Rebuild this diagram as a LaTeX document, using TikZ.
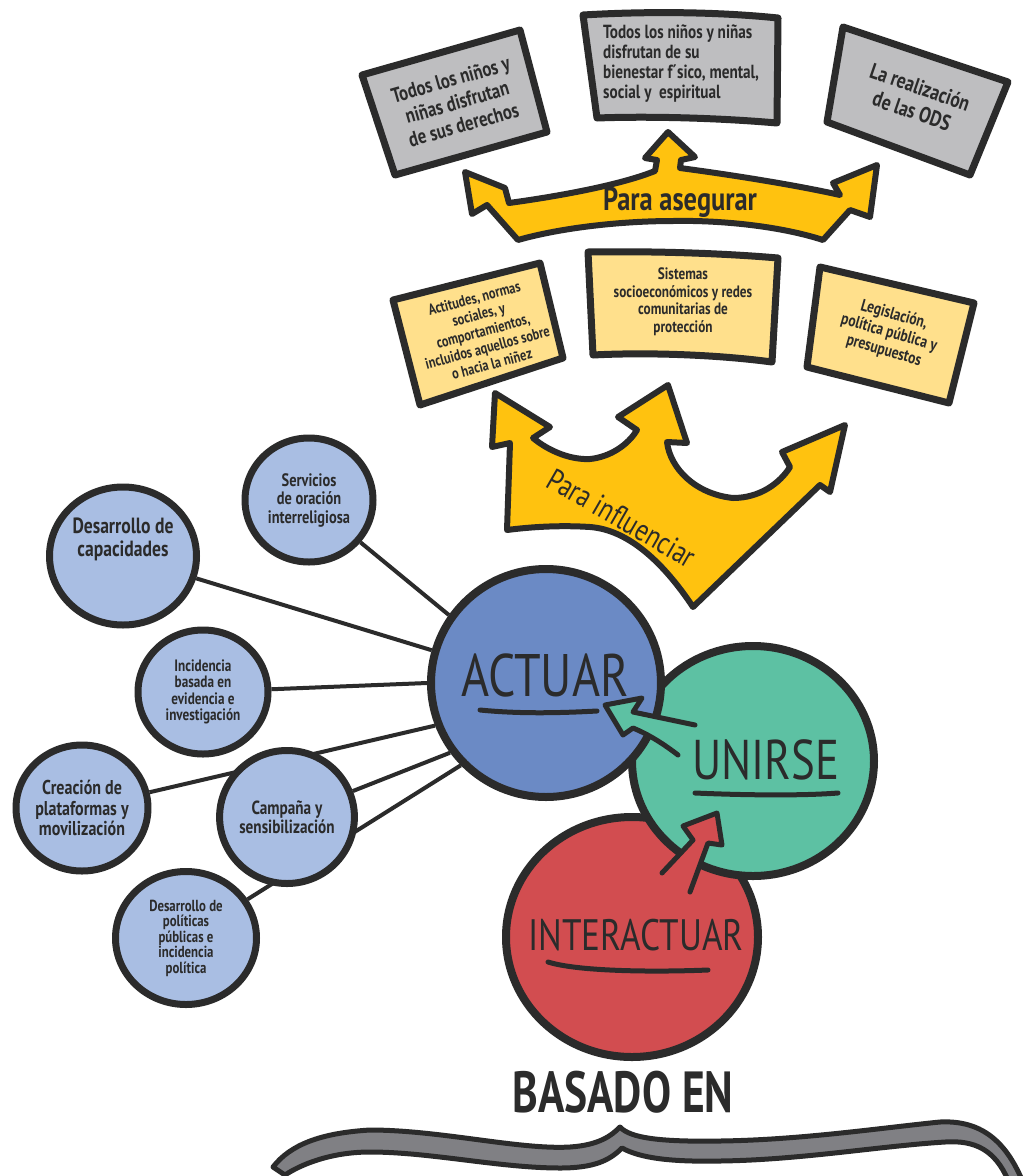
\documentclass[tikz,border=0pt]{standalone}
\usepackage{fontspec}
\setmainfont{PT Sans}
\newfontfamily\hand[FakeStretch=0.8]{PT Sans}
\newfontfamily\handc[FakeStretch=0.8]{PT Sans}
\newfontfamily\handbig[FakeStretch=0.75]{PT Sans}
\usetikzlibrary{shapes.geometric}
\pgfdeclarelayer{bg}
\pgfsetlayers{bg,main}
\definecolor{ink}{HTML}{2B2B2B}
\definecolor{greybox}{HTML}{BEBEC0}
\definecolor{paleyel}{HTML}{FFE08C}
\definecolor{gold}{HTML}{FFC20F}
\definecolor{actblue}{HTML}{6B8AC5}
\definecolor{lightblue}{HTML}{A9BEE3}
\definecolor{unigreen}{HTML}{5DC1A3}
\definecolor{intred}{HTML}{D24D50}
\definecolor{bracegrey}{HTML}{808084}
\begin{document}
\begin{tikzpicture}[x=1pt,y=-1pt,line join=round,line cap=round,
  boxline/.style={draw=ink,line width=7pt,line join=round},
  banner/.style={draw=ink,line width=6pt,fill=gold,line join=round},
  small/.style={ellipse,draw=ink,line width=7pt,fill=lightblue,inner sep=0pt,align=center,text=ink},
  big/.style={ellipse,draw=ink,line width=8pt,inner sep=0pt},
  conn/.style={draw=ink,line width=4pt},
  txt/.style={align=center,text=ink,inner sep=0pt},
  uline/.style={draw=ink,line width=5pt},
  fatarrow/.style={draw=ink,line width=5pt}]
\useasboundingbox (0,0) rectangle (1024,1176);
\begin{pgfonlayer}{bg}
\fill[white] (0,0) rectangle (1024,1176);
\end{pgfonlayer}

% ---------- top grey boxes ----------
\draw[boxline,fill=greybox] (362,75) -- (520,30) -- (547,132) -- (395,175) -- cycle;
\draw[boxline,fill=greybox] (583,15) .. controls (650,11) and (720,12) .. (778,18) -- (777,123) .. controls (720,118) and (650,116) .. (597,118) -- cycle;
\draw[boxline,fill=greybox] (843,27) -- (1008,82) -- (970,175) -- (827,122) -- cycle;

\node[txt,rotate=16,font={\hand\bfseries\fontsize{21}{23.5}\selectfont}] (g1) at (457,102) {Todos los niños y\\niñas disfrutan\\de sus derechos};
\node[txt,anchor=west,align=left,font={\hand\bfseries\fontsize{19}{20}\selectfont}] (g2) at (603,64) {Todos los niños y niñas\\disfrutan de su\\bienestar f´sico, mental,\\social y\ \ espiritual};
\node[txt,rotate=-19,font={\hand\bfseries\fontsize{22}{25}\selectfont}] (g3) at (916,99) {La realización\\de las ODS};

% ---------- Para asegurar banner ----------
\draw[banner] (465,172) -- (505,188) -- (509,203)
  .. controls (560,196) and (620,185) .. (655,171)
  -- (657,160) -- (645,158) -- (668,132) -- (695,157) -- (681,160) -- (680,168)
  .. controls (740,176) and (800,186) .. (840,195)
  -- (833,183) -- (877,165) -- (870,217) -- (850,210)
  -- (823,240) .. controls (780,226) and (720,220) .. (673,221)
  .. controls (620,221) and (560,228) .. (518,240)
  -- (487,205) -- (472,214) -- cycle;
\node[txt,font={\hand\bfseries\fontsize{33}{33}\selectfont}] (asegurar) at (680,202) {Para asegurar};

% ---------- pale yellow boxes ----------
\draw[boxline,fill=paleyel] (393,300) -- (540,263) -- (563,358) -- (420,405) -- cycle;
\draw[boxline,fill=paleyel] (588,252) .. controls (650,251) and (720,253) .. (778,258) -- (772,362) .. controls (720,355) and (650,352) .. (593,355) -- cycle;
\draw[boxline,fill=paleyel] (820,267) -- (974,303) -- (949,403) -- (807,367) -- cycle;

\node[txt,rotate=15,font={\hand\bfseries\fontsize{15.5}{17}\selectfont}] (y1) at (483,331) {Actitudes, normas\\sociales, y\\comportamientos,\\incluidos aquellos sobre\\o hacia la niñez};
\node[txt,font={\hand\bfseries\fontsize{16.5}{17.5}\selectfont}] (y2) at (683,302) {Sistemas\\socioeconómicos y redes\\comunitarias de\\protección};
\node[txt,rotate=-16,font={\hand\bfseries\fontsize{17}{18.5}\selectfont}] (y3) at (889,333) {Legislación,\\política pública y\\presupuestos};

% ---------- Para influenciar arrow ----------
\draw[banner] (495,393) -- (550,427) -- (533,438)
  .. controls (550,452) and (572,460) .. (590,459)
  .. controls (610,457) and (628,445) .. (637,430)
  -- (618,417) -- (668,385) -- (687,443) -- (667,442)
  .. controls (670,468) and (695,494) .. (733,498)
  .. controls (760,498) and (780,483) .. (790,467)
  -- (782,452) -- (845,425) -- (830,492) -- (820,485)
  -- (693,607) .. controls (665,565) and (630,530) .. (590,527)
  .. controls (560,525) and (530,527) .. (507,530)
  -- (510,443) -- (492,447) -- cycle;
\node[txt,rotate=-30,font={\hand\fontsize{31}{31}\selectfont}] (influ) at (622,518) {Para influenciar};

% ---------- big circles ----------
\node[big,fill=intred,minimum width=252pt,minimum height=240pt] (inter) at (632,937) {};
\node[big,fill=unigreen,minimum width=242pt,minimum height=230pt] (unirse) at (753,761) {};
\node[big,fill=actblue,minimum width=230pt,minimum height=228pt] (actuar) at (546,683) {};

% ---------- small circles ----------
\node[small,minimum width=128pt,minimum height=124pt,font={\hand\bfseries\fontsize{18}{18.5}\selectfont}] (serv) at (309,500) {Servicios\\de oración\\interreligiosa};
\node[small,minimum width=147pt,minimum height=138pt,font={\hand\bfseries\fontsize{22}{23}\selectfont}] (desa) at (123,556) {Desarrollo de\\capacidades\\[14pt]};
\node[small,minimum width=130pt,minimum height=124pt,font={\hand\bfseries\fontsize{16.5}{16.5}\selectfont}] (inci) at (203,692) {Incidencia\\basada en\\evidencia e\\investigación};
\node[small,minimum width=126pt,minimum height=126pt,font={\hand\bfseries\fontsize{20}{20.5}\selectfont}] (crea) at (82,808) {Creación de\\plataformas y\\movilización};
\node[small,minimum width=128pt,minimum height=133pt,font={\hand\bfseries\fontsize{19}{19}\selectfont}] (camp) at (287,817) {Campaña y\\sensibilización};
\node[small,minimum width=141pt,minimum height=133pt,font={\hand\bfseries\fontsize{16}{15.5}\selectfont}] (poli) at (186,938) {Desarrollo de\\políticas\\públicas e\\incidencia\\política};

% ---------- connectors ----------
\begin{pgfonlayer}{bg}
\draw[conn] (serv) -- (actuar.145);
\draw[conn] (desa) -- (actuar.164);
\draw[conn] (inci) -- (actuar.180);
\draw[conn] (crea) -- (actuar.201);
\draw[conn] (camp) -- (actuar.216);
\draw[conn] (poli) -- (actuar.224);
\end{pgfonlayer}

% ---------- fat arrows ----------
\fill[unigreen] (695,725) -- (633,712) -- (642,698) -- (605,705) -- (623,735) -- (633,728)
  .. controls (650,735) and (665,745) .. (678,755) -- cycle;
\draw[fatarrow] (695,725) -- (633,712) -- (642,698) -- (605,705) -- (623,735) -- (633,728)
  .. controls (650,735) and (665,745) .. (678,755);
\fill[intred] (662,873) -- (693,840) -- (683,826) -- (717,813) -- (722,845) -- (708,843) -- (690,892) -- cycle;
\draw[fatarrow] (662,873) -- (693,840) -- (683,826) -- (717,813) -- (722,845) -- (708,843) -- (690,892);

% ---------- titles ----------
\node[txt,font={\handc\fontsize{60}{60}\selectfont}] (tact) at (545,675) {ACTUAR};
\draw[uline] (480,710) .. controls (520,714) and (560,713) .. (597,711);
\node[txt,font={\handc\fontsize{56}{56}\selectfont}] (tuni) at (766,760) {UNIRSE};
\draw[uline] (695,793) .. controls (740,795) and (800,796) .. (838,793);
\node[txt,font={\handc\fontsize{44}{44}\selectfont}] (tint) at (636,935) {INTERACTUAR};
\draw[uline] (548,962) .. controls (580,972) and (660,972) .. (708,970);

% ---------- bottom ----------
\node[txt,font={\handbig\bfseries\fontsize{58}{58}\selectfont}] (basado) at (623,1092) {BASADO EN};
\draw[draw=ink,line width=5pt,fill=bracegrey]
  (273,1167) .. controls (290,1145) and (320,1133) .. (370,1130)
  .. controls (440,1130) and (520,1150) .. (570,1147)
  .. controls (600,1145) and (612,1135) .. (620,1127)
  .. controls (630,1138) and (660,1142) .. (720,1141)
  .. controls (800,1140) and (880,1128) .. (940,1122)
  .. controls (980,1120) and (1005,1140) .. (1022,1180)
  -- (1008,1180) .. controls (995,1150) and (975,1140) .. (945,1142)
  .. controls (880,1146) and (800,1160) .. (720,1161)
  .. controls (670,1162) and (640,1158) .. (622,1148)
  .. controls (610,1160) and (595,1168) .. (560,1168)
  .. controls (500,1168) and (430,1152) .. (370,1152)
  .. controls (330,1152) and (300,1165) .. (285,1175) -- cycle;
\end{tikzpicture}
\end{document}
